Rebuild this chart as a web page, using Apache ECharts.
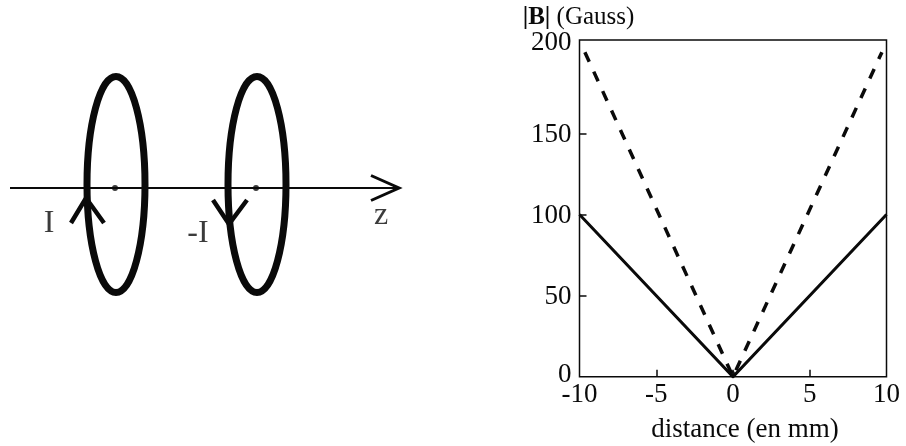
<!DOCTYPE html>
<html><head><meta charset="utf-8">
<style>html,body{margin:0;padding:0;background:#fff}#c{width:906px;height:446px}</style>
<script src="https://cdn.jsdelivr.net/npm/echarts@6/dist/echarts.min.js"></script>
</head><body><div id="c"></div>
<script>
// Plot: field magnitude against distance
var solidField = [[-10, 100], [0, 0], [10, 100]];
var dashedField = [[-9.65, 200], [0, 0], [9.7, 200]];
var vertexMark = [[0, 1.5]];
var xTickLabels = [-10, -5, 0, 5, 10];
var xTickMarks = [-5, 0, 5];
var yTickLabels = [0, 50, 100, 150, 200];
var yTickMarks = [50, 100, 150];
var xTitle = 'distance (en mm)';

// Schematic of the two coils, in the schematic's own units
var coils = [[116, 184.5, 29, 108], [257, 184.5, 29, 108]]; // centre, centre, radius, radius
var zAxisLine = [[10, 188], [399, 188]];
var zArrow = [[371, 175.5], [399, 188], [371, 200.5]];
var upArrow = [[71, 223], [86, 198], [104, 223]];
var downArrow = [[213, 200], [229, 224], [247, 200]];
var coilCentres = [[115, 188], [256, 188]];
var diagramLabels = [[49, 224, 'I'], [198, 234, '-I'], [381, 216, 'z']];

var INK = '#0a0a0a', FONT = '"Liberation Serif","Times New Roman",serif';
function diagramLine(pts, w) {
  return { type: 'line', xAxisIndex: 1, yAxisIndex: 1, data: pts, showSymbol: false, silent: true,
    lineStyle: { color: INK, width: w, join: 'miter' }, animation: false };
}
var chart = echarts.init(document.getElementById('c'), null, { renderer: 'canvas' });
chart.setOption({
  animation: false,
  backgroundColor: '#fff',
  grid: [
    { left: 579.5, top: 40, width: 307, height: 336.7, show: true, outerBoundsMode: 'none', borderColor: INK, borderWidth: 1.5, backgroundColor: 'transparent' },
    { left: 0, top: 0, width: 906, height: 446, show: false, outerBoundsMode: 'none' }
  ],
  xAxis: [
    { type: 'value', gridIndex: 0, min: -10, max: 10, splitLine: { show: false },
      name: xTitle, nameLocation: 'middle', nameGap: 40,
      nameTextStyle: { fontFamily: FONT, fontSize: 27, color: INK, padding: [0, 0, 0, 24] },
      axisLine: { show: false, onZero: false },
      axisTick: { inside: true, length: 7, customValues: xTickMarks, lineStyle: { color: INK, width: 1.5 } },
      axisLabel: { customValues: xTickLabels, margin: 5, fontFamily: FONT, fontSize: 27, color: INK, hideOverlap: false, showMinLabel: true, showMaxLabel: true } },
    { type: 'value', gridIndex: 1, min: 0, max: 906, show: false }
  ],
  yAxis: [
    { type: 'value', gridIndex: 0, min: 0, max: 207.5, splitLine: { show: false },
      name: '{b||B|}{p| (Gauss)}', nameLocation: 'end', nameGap: 10,
      nameTextStyle: { rich: { p: { fontFamily: FONT, fontSize: 25, color: INK }, b: { fontFamily: FONT, fontSize: 25, fontWeight: 'bold', color: INK } }, padding: [0, 2, 0, 0] },
      axisLine: { show: false, onZero: false },
      axisTick: { inside: true, length: 7, customValues: yTickMarks, lineStyle: { color: INK, width: 1.5 } },
      axisLabel: { customValues: yTickLabels, margin: 8, fontFamily: FONT, fontSize: 27, color: INK, showMinLabel: true, showMaxLabel: true,
        formatter: function (v) { return v === 200 ? '{up|200}' : v === 0 ? '{lo|0}' : '{mid|' + v + '}'; },
        rich: { up: { fontFamily: FONT, fontSize: 27, color: INK, padding: [0, 0, 18, 0] },
                lo: { fontFamily: FONT, fontSize: 27, color: INK, padding: [0, 0, 4, 0] },
                mid: { fontFamily: FONT, fontSize: 27, color: INK, padding: [3, 0, 0, 0] } } } },
    { type: 'value', gridIndex: 1, min: 0, max: 446, inverse: true, show: false }
  ],
  series: [
    { type: 'line', name: 'solid', data: solidField, showSymbol: false, lineStyle: { color: INK, width: 3, join: 'miter' } },
    { type: 'line', name: 'dashed', data: dashedField, showSymbol: false, lineStyle: { color: INK, width: 3.5, type: [10.5, 10.9] } },
    { type: 'scatter', name: 'vertex', data: vertexMark, symbol: 'diamond', symbolSize: 8, silent: true, itemStyle: { color: INK } },
    diagramLine(zAxisLine, 2),
    { type: 'custom', xAxisIndex: 1, yAxisIndex: 1, data: coils, silent: true, clip: false,
      encode: { x: 0, y: 1 },
      renderItem: function (params, api) {
        var c = api.coord([api.value(0), api.value(1)]);
        var e = api.coord([api.value(0) + api.value(2), api.value(1) + api.value(3)]);
        return { type: 'ellipse', shape: { cx: c[0], cy: c[1], rx: Math.abs(e[0] - c[0]), ry: Math.abs(e[1] - c[1]) },
          style: { fill: null, stroke: INK, lineWidth: 7 } };
      } },
    diagramLine(zArrow, 3),
    diagramLine(upArrow, 4.5),
    diagramLine(downArrow, 4.5),
    { type: 'scatter', xAxisIndex: 1, yAxisIndex: 1, data: coilCentres, symbolSize: 6, silent: true, itemStyle: { color: INK } },
    { type: 'scatter', xAxisIndex: 1, yAxisIndex: 1, data: diagramLabels, symbolSize: 0, silent: true,
      label: { show: true, position: 'inside', formatter: function (p) { return p.value[2]; }, fontFamily: FONT, fontSize: 32, color: INK } }
  ]
});
</script></body></html>
